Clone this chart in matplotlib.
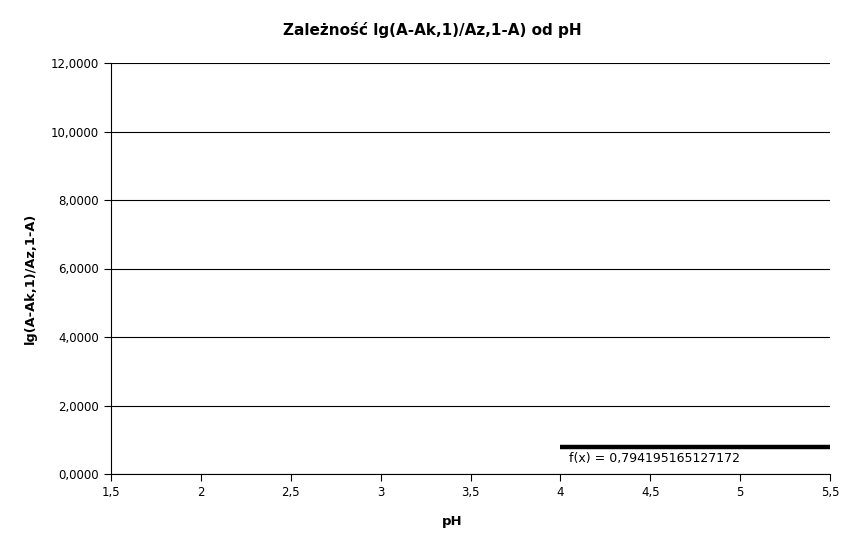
import matplotlib
matplotlib.use("Agg")
import matplotlib.pyplot as plt
from matplotlib.ticker import FuncFormatter, MultipleLocator

title = "Zależność lg(A-Ak,1)/Az,1-A) od pH"
x_label = "pH"
y_label = "lg(A-Ak,1)/Az,1-A)"
trend_x = [4.0, 5.5]
trend_value = 0.794195165127172
trend_y = [trend_value, trend_value]
trend_text = "f(x) = 0,794195165127172"

W, H = 866, 548
fig = plt.figure(figsize=(W / 100, H / 100), dpi=100)
ax = fig.add_axes([111/W, 74/H, 719/W, 411/H])

ax.plot(trend_x, trend_y, color="black", linewidth=3.2, solid_capstyle="butt", zorder=3)
ax.text(4.05, trend_value - 0.15, trend_text, fontsize=9, va="top", ha="left")

ax.set_xlim(1.5, 5.5)
ax.set_ylim(0, 12)
ax.xaxis.set_major_locator(MultipleLocator(0.5))
ax.yaxis.set_major_locator(MultipleLocator(2))
ax.xaxis.set_major_formatter(FuncFormatter(lambda v, p: ("%g" % v).replace(".", ",")))
ax.yaxis.set_major_formatter(FuncFormatter(lambda v, p: ("%.4f" % v).replace(".", ",")))
ax.tick_params(direction="out", length=5, width=0.8, labelsize=8.5, colors="black")
ax.grid(axis="y", color="black", linewidth=0.8)
ax.set_axisbelow(True)
for s in ["top", "right"]:
    ax.spines[s].set_visible(False)
for s in ["left", "bottom"]:
    ax.spines[s].set_linewidth(0.8)

fig.text(432/W, 1 - 30/H, title, fontsize=11, fontweight="bold", ha="center", va="center")
fig.text(452/W, 1 - 521/H, x_label, fontsize=9.5, fontweight="bold", ha="center", va="center")
fig.text(30/W, 1 - 278/H, y_label, fontsize=9.3, fontweight="bold", ha="center", va="center",
         rotation=90)

fig.savefig("out.png", dpi=100)
